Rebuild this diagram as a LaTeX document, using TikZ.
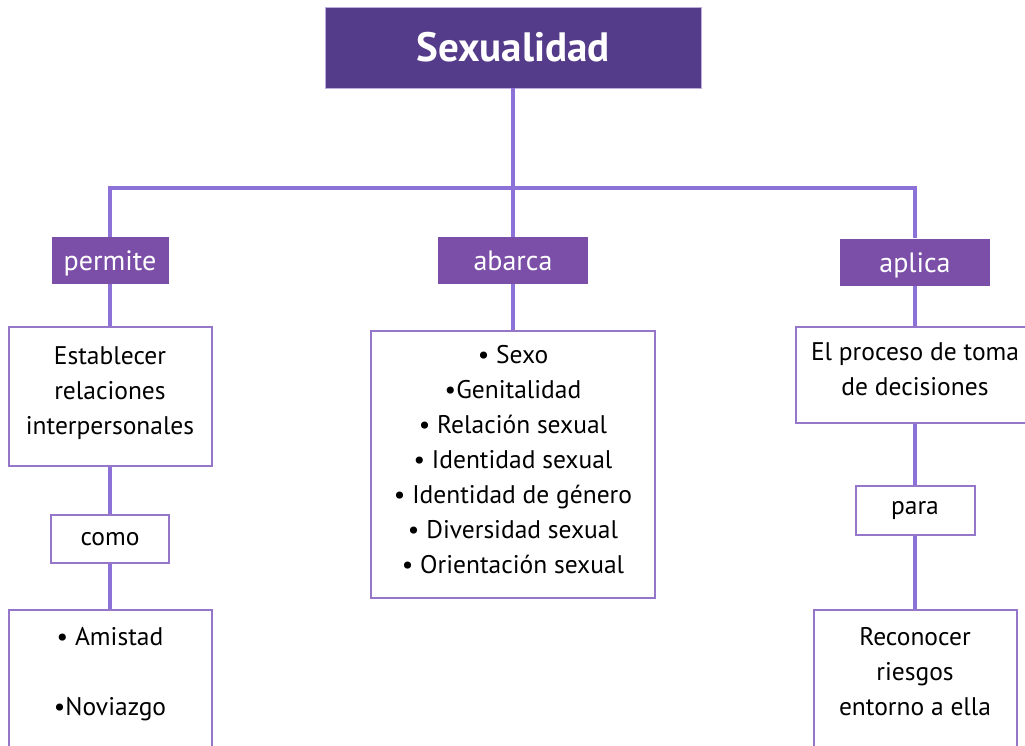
\documentclass[tikz,border=0pt]{standalone}
\usepackage{fontspec}
\setmainfont{PT Sans}
\definecolor{titlepurple}{HTML}{553C8B}
\definecolor{tagpurple}{HTML}{7B4FA8}
\definecolor{linkpurple}{HTML}{8C72D8}
\definecolor{framepurple}{HTML}{9676C9}

\begin{document}
\begin{tikzpicture}
        [
        x=1pt,y=-1pt,
        title/.style={fill=titlepurple,draw=framepurple!60,text=white,font=\fontsize{41}{44}\selectfont\bfseries,minimum width=376pt,minimum height=81pt},
        tag/.style={fill=tagpurple,text=white,font=\fontsize{28}{30}\selectfont,text height=24pt,text depth=4pt,minimum height=47pt},
        box/.style={draw=framepurple,line width=2pt,fill=white,align=center,font=\fontsize{25.5}{35}\selectfont},
        link/.style={draw=linkpurple,line width=3.2pt}
        ]
    \useasboundingbox (0,0) rectangle (1025,746);
    \clip (0,0) rectangle (1025,746);
    \node[title] (title) at (513,47.5) {Sexualidad};
    \coordinate (bus) at (513,188);
    \node[tag,minimum width=117pt] (permite) at (110,260.5) {permite};
    \node[tag,minimum width=150pt] (abarca) at (513,260.5) {abarca};
    \node[tag,minimum width=150pt] (aplica) at (915,262) {aplica};
    \node[box,minimum width=203pt,minimum height=139pt,text depth=11pt] (relac) at (110,396.5) {Establecer\\relaciones\\interpersonales};
    \node[box,minimum width=118pt,minimum height=48pt] (como) at (110,539) {como};
    \node[box,minimum width=203pt,anchor=north,inner ysep=17pt,text depth=90pt] (amistad) at (110,609) {• Amistad\\[35pt]•Noviazgo};
    \node[box,minimum width=284pt,minimum height=267pt,text depth=11pt] (temas) at (513,464.5) {• Sexo\\•Genitalidad\\• Relación sexual\\• Identidad sexual\\• Identidad de género\\• Diversidad sexual\\• Orientación sexual};
    \node[box,minimum width=239pt,minimum height=96pt,text depth=11pt] (proceso) at (915,375) {El proceso de toma\\de decisiones};
    \node[box,minimum width=119pt,minimum height=49pt] (para) at (915,510.5) {para};
    \node[box,minimum width=203pt,anchor=north,inner ysep=17pt,text depth=90pt] (riesgos) at (915,609) {Reconocer\\riesgos\\entorno a ella};
    \draw[link] (title.south) -- (abarca.north);
    \draw[link] (permite.north) |- (bus) -| (aplica.north);
    \draw[link] (permite.south) -- (relac.north);
    \draw[link] (relac.south) -- (como.north);
    \draw[link] (como.south) -- (amistad.north);
    \draw[link] (abarca.south) -- (temas.north);
    \draw[link] (aplica.south) -- (proceso.north);
    \draw[link] (proceso.south) -- (para.north);
    \draw[link] (para.south) -- (riesgos.north);
    \end{tikzpicture}
\end{document}
